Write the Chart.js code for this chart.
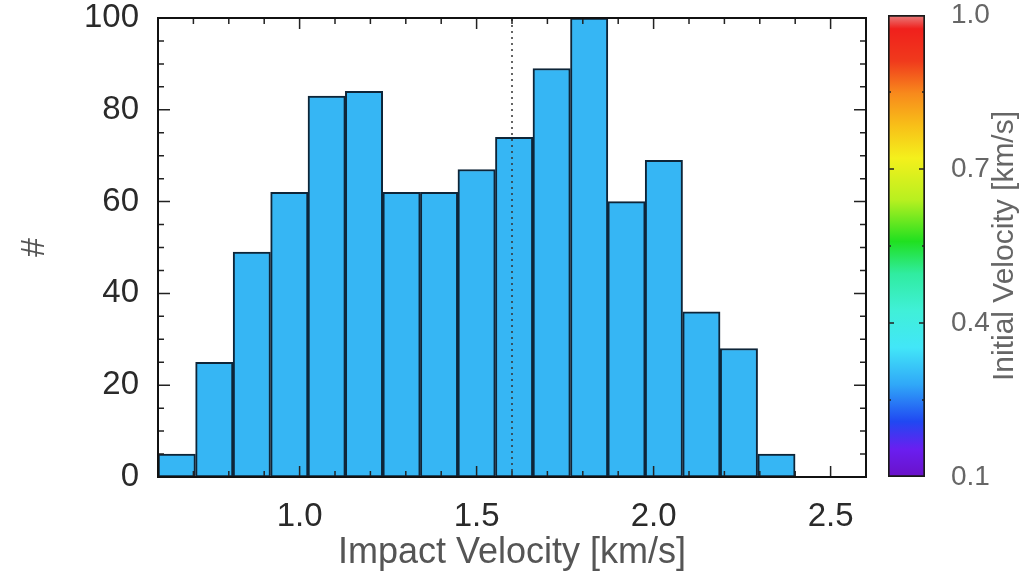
<!DOCTYPE html>
<html>
<head>
<meta charset="utf-8">
<script src="https://cdn.jsdelivr.net/npm/chart.js@4.4.1/dist/chart.umd.min.js"></script>
<style>
  html, body { margin: 0; padding: 0; background: #fff; }
  #wrap { position: relative; width: 1035px; height: 580px; }
  #main { position: absolute; left: 0; top: 0; width: 880px; height: 580px; }
  #bar { position: absolute; left: 870px; top: 0; width: 165px; height: 580px; }
</style>
</head>
<body>
<div id="wrap">
  <div id="main"><canvas id="histChart"></canvas></div>
  <div id="bar"><canvas id="cbChart"></canvas></div>
</div>
<script>
// histogram bins (impact velocity, km/s) and counts
var binEdges = [0.600, 0.706, 0.812, 0.918, 1.024, 1.129, 1.235, 1.341, 1.447,
                1.553, 1.659, 1.765, 1.871, 1.976, 2.082, 2.188, 2.294, 2.400];
var counts = [5, 25, 49, 62, 83, 84, 62, 62, 67, 74, 89, 100, 60, 69, 36, 28, 5];
var xTicks = [1.0, 1.5, 2.0, 2.5];
var yTicks = [0, 20, 40, 60, 80, 100];
var cbTicks = [0.1, 0.4, 0.7, 1.0];
var medianVelocity = 1.6;

var font = "'Liberation Sans', Arial, Helvetica, sans-serif";

var histData = counts.map(function (c, i) {
    return { x: (binEdges[i] + binEdges[i + 1]) / 2, y: c };
});

// inward ticks, frame and dotted median line (IDL style)
var frameTicks = {
    id: 'frameTicks',
    afterDatasetsDraw: function (chart) {
        var ctx = chart.ctx, a = chart.chartArea;
        var x = chart.scales.x, y = chart.scales.y;
        ctx.save();
        // dotted line
        var mx = x.getPixelForValue(medianVelocity);
        ctx.strokeStyle = '#333';
        ctx.lineWidth = 1.5;
        ctx.setLineDash([2, 4]);
        ctx.beginPath();
        ctx.moveTo(mx, a.bottom);
        ctx.lineTo(mx, a.top);
        ctx.stroke();
        ctx.setLineDash([]);
        // ticks
        ctx.strokeStyle = '#222';
        ctx.lineWidth = 1.5;
        ctx.beginPath();
        for (var k = 6; k <= 26; k++) {
            var px = x.getPixelForValue(k / 10);
            var len = (k % 5 === 0) ? 11 : 6;
            ctx.moveTo(px, a.bottom); ctx.lineTo(px, a.bottom - len);
            ctx.moveTo(px, a.top); ctx.lineTo(px, a.top + len);
        }
        for (var v = 0; v <= 100; v += 5) {
            var py = y.getPixelForValue(v);
            var l2 = (v % 20 === 0) ? 12 : 6;
            ctx.moveTo(a.left, py); ctx.lineTo(a.left + l2, py);
            ctx.moveTo(a.right, py); ctx.lineTo(a.right - l2, py);
        }
        ctx.stroke();
        // frame
        ctx.strokeStyle = '#111';
        ctx.lineWidth = 2;
        ctx.strokeRect(a.left, a.top, a.right - a.left, a.bottom - a.top);
        ctx.restore();
    }
};

new Chart(document.getElementById('histChart'), {
    type: 'bar',
    data: {
        datasets: [{
            data: histData,
            backgroundColor: '#36b6f4',
            borderColor: '#0e2538',
            borderWidth: 2,
            borderSkipped: false,
            barPercentage: 1.0,
            categoryPercentage: 1.0
        }]
    },
    options: {
        responsive: true,
        maintainAspectRatio: false,
        animation: false,
        layout: { padding: { top: 18, right: 14, left: 0, bottom: 0 } },
        plugins: { legend: { display: false }, tooltip: { enabled: false } },
        scales: {
            x: {
                type: 'linear',
                min: 0.6,
                max: 2.6,
                offset: false,
                grid: { display: false },
                border: { display: false },
                afterBuildTicks: function (s) {
                    s.ticks = xTicks.map(function (v) { return { value: v }; });
                },
                afterFit: function (s) {
                    s.height = 103;
                    s.paddingLeft = 0; s.paddingRight = 0;
                },
                ticks: {
                    padding: 12,
                    color: '#2a2a2a',
                    font: { family: font, size: 33 },
                    maxRotation: 0,
                    callback: function (v) { return Number(v).toFixed(1); }
                },
                title: {
                    display: true,
                    text: 'Impact Velocity [km/s]',
                    color: '#555',
                    font: { family: font, size: 36 },
                    padding: { top: 0, bottom: 5 }
                }
            },
            y: {
                min: 0,
                max: 100,
                grid: { display: false },
                border: { display: false },
                afterBuildTicks: function (s) {
                    s.ticks = yTicks.map(function (v) { return { value: v }; });
                },
                afterFit: function (s) {
                    s.width = 158;
                    s.paddingTop = 0; s.paddingBottom = 0;
                },
                ticks: {
                    padding: 11,
                    color: '#2a2a2a',
                    font: { family: font, size: 33 }
                },
                title: {
                    display: true,
                    text: '#',
                    color: '#555',
                    font: { family: font, size: 34 },
                    padding: { top: 14, bottom: 0 }
                }
            }
        }
    },
    plugins: [frameTicks]
});

// colour bar
var cbStops = [
    [0.00, '#6a12c8'], [0.06, '#6a1ef0'], [0.12, '#2048f2'], [0.20, '#30a8f8'],
    [0.28, '#42e6f8'], [0.36, '#40f0d8'], [0.44, '#30eca0'], [0.51, '#20e020'],
    [0.60, '#b8f020'], [0.69, '#f4f01c'], [0.76, '#f8c018'], [0.83, '#f88a1c'],
    [0.90, '#f03a1c'], [0.97, '#f0201c'], [1.00, '#e88080']
];

var cbDecor = {
    id: 'cbDecor',
    afterDatasetsDraw: function (chart) {
        var ctx = chart.ctx, a = chart.chartArea, y = chart.scales.y;
        ctx.save();
        ctx.strokeStyle = '#222';
        ctx.lineWidth = 1.5;
        ctx.beginPath();
        [0.25, 0.4, 0.55, 0.7, 0.85].forEach(function (v) {
            var py = y.getPixelForValue(v);
            var len = (v === 0.4 || v === 0.7) ? 6 : 3;
            ctx.moveTo(a.left, py); ctx.lineTo(a.left + len, py);
            ctx.moveTo(a.right, py); ctx.lineTo(a.right - len, py);
        });
        ctx.stroke();
        // rotated title, reading bottom to top
        ctx.translate(1005 - 870, (a.top + a.bottom) / 2);
        ctx.rotate(-Math.PI / 2);
        ctx.fillStyle = '#666';
        ctx.font = '30px ' + font;
        ctx.textAlign = 'center';
        ctx.textBaseline = 'middle';
        ctx.fillText('Initial Velocity [km/s]', 0, 0);
        ctx.restore();
    }
};

new Chart(document.getElementById('cbChart'), {
    type: 'bar',
    data: {
        labels: [''],
        datasets: [{
            data: [[cbTicks[0], cbTicks[cbTicks.length - 1]]],
            backgroundColor: function (c) {
                var a = c.chart.chartArea;
                if (!a) return '#36b6f4';
                var g = c.chart.ctx.createLinearGradient(0, a.bottom, 0, a.top);
                cbStops.forEach(function (s) { g.addColorStop(s[0], s[1]); });
                return g;
            },
            borderColor: '#1a1a1a',
            borderWidth: 2,
            borderSkipped: false,
            barPercentage: 1.0,
            categoryPercentage: 1.0
        }]
    },
    options: {
        responsive: true,
        maintainAspectRatio: false,
        animation: false,
        layout: { padding: { top: 15, left: 18, right: 0, bottom: 103 } },
        plugins: { legend: { display: false }, tooltip: { enabled: false } },
        scales: {
            x: { display: false },
            y: {
                position: 'right',
                min: 0.1,
                max: 1.0,
                grid: { display: false },
                border: { display: false },
                afterBuildTicks: function (s) {
                    s.ticks = cbTicks.map(function (v) { return { value: v }; });
                },
                afterFit: function (s) {
                    s.width = 110;
                    s.paddingTop = 0; s.paddingBottom = 0;
                },
                ticks: {
                    padding: 18,
                    color: '#666',
                    font: { family: font, size: 28 },
                    callback: function (v) { return Number(v).toFixed(1); }
                }
            }
        }
    },
    plugins: [cbDecor]
});
</script>
</body>
</html>
